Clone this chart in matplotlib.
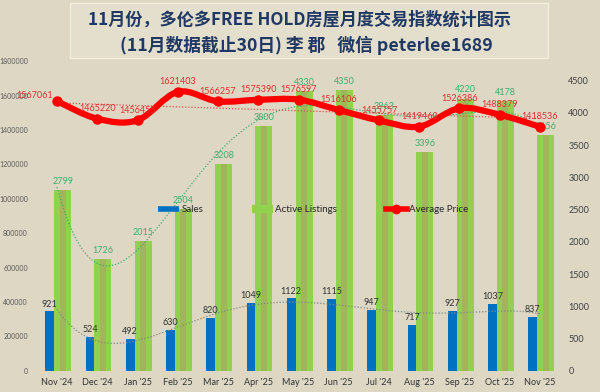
import numpy as np
import matplotlib
matplotlib.use("Agg")
import matplotlib.pyplot as plt
from matplotlib.path import Path
from matplotlib.patches import PathPatch, Rectangle
from matplotlib.lines import Line2D

# data
months = ["Nov '24", "Dec '24", "Jan '25", "Feb '25", "Mar '25", "Apr '25", "May '25",
          "Jun '25", "Jul '24", "Aug '25", "Sep '25", "Oct '25", "Nov '25"]
sales = [921, 524, 492, 630, 820, 1049, 1122, 1115, 947, 717, 927, 1037, 837]
active = [2799, 1726, 2015, 2504, 3208, 3800, 4330, 4350, 3963, 3396, 4220, 4178, 3656]
price = [1567061, 1465220, 1456455, 1621403, 1566257, 1575390, 1576597,
         1516106, 1455757, 1419460, 1526386, 1488379, 1418536]
left_ticks = list(range(0, 1800001, 200000))
right_ticks = list(range(0, 4501, 500))

bg = '#ddd7c3'
blue = '#0070c0'
green = '#92d050'
green_mid = '#a2b45c'
red = '#ff0000'

plt.rcParams['font.family'] = ['Lato', 'DejaVu Sans']

fig = plt.figure(figsize=(6, 3.92), dpi=100, facecolor=bg)
ax2 = fig.add_axes([0.0615, 0.054, 0.872, 0.79])   # bars, right scale
ax = ax2.twinx()                                    # price, left scale
ax.yaxis.tick_left()
ax2.yaxis.tick_right()
ax.set_zorder(ax2.get_zorder() + 1)
ax.patch.set_visible(False)
ax2.set_facecolor('none')

x = np.arange(len(months))

# bars
ax2.bar(x - 0.18, sales, width=0.22, color=blue, zorder=3)
ax2.bar(x + 0.14, active, width=0.42, color=green, zorder=2)
ax2.bar(x + 0.14, active, width=0.15, color=green_mid, zorder=2)

for i in range(len(x)):
    ax2.annotate(str(sales[i]), (x[i] - 0.18, sales[i]), xytext=(0, 2),
                 textcoords='offset points', ha='center', va='bottom',
                 fontsize=6.5, color='#333333', zorder=5)
    ax2.annotate(str(active[i]), (x[i] + 0.14, active[i]), xytext=(0, 3),
                 textcoords='offset points', ha='center', va='bottom',
                 fontsize=6.5, color='#3fae6e', zorder=5)

# trend lines (polynomial / linear fits, like the spreadsheet trendlines)
xs = np.linspace(0, len(x) - 1, 300)
ax2.plot(xs, np.polyval(np.polyfit(x, sales, 5), xs), color='#7f8a86',
         lw=0.9, ls=(0, (1, 1.5)), zorder=4)
ax2.plot(xs, np.polyval(np.polyfit(x, active, 5), xs), color='#3fae6e',
         lw=0.9, ls=(0, (1, 1.5)), zorder=4)
ax.plot(xs, np.polyval(np.polyfit(x, price, 1), xs), color='#e05050',
        lw=0.9, ls=(0, (1, 1.5)), zorder=2)

# smoothed price line (catmull-rom as bezier path)
pts = np.column_stack([x, price]).astype(float)
n = len(pts)
verts = [pts[0]]
codes = [Path.MOVETO]
for i in range(n - 1):
    p0 = pts[i - 1] if i > 0 else pts[i]
    p3 = pts[i + 2] if i + 2 < n else pts[i + 1]
    c1 = pts[i] + (pts[i + 1] - p0) / 6
    c2 = pts[i + 1] - (p3 - pts[i]) / 6
    verts += [c1, c2, pts[i + 1]]
    codes += [Path.CURVE4] * 3
ax.add_patch(PathPatch(Path(verts, codes), fill=False, edgecolor=red, lw=4.5,
                       capstyle='round', joinstyle='round', zorder=3))
ax.plot(x, price, 'o', color=red, ms=6.5, zorder=4)

for i in range(n):
    if i == 0:
        ax.annotate(str(price[i]), (x[i], price[i]), xytext=(-3, 4),
                    textcoords='offset points', ha='right', va='center',
                    fontsize=6.5, color='#e03030', zorder=6)
    else:
        ax.annotate(str(price[i]), (x[i], price[i]), xytext=(0, 4),
                    textcoords='offset points', ha='center', va='bottom',
                    fontsize=6.5, color='#e03030', zorder=6)

# axes
ax.set_xlim(-0.5, len(x) - 0.5)
ax.set_ylim(0, 1800000)
ax2.set_ylim(0, 4800)
ax.set_yticks(left_ticks)
ax.set_yticklabels([str(t) for t in left_ticks])
ax2.set_yticks(right_ticks)
ax2.set_yticklabels([str(t) for t in right_ticks])
ax2.set_xticks(x)
ax2.set_xticklabels(months)
ax.tick_params(axis='y', length=0, pad=6.5, labelsize=5, labelcolor='#595959')
ax2.tick_params(axis='y', length=0, pad=6, labelsize=6.5, labelcolor='#404040')
ax2.tick_params(axis='x', length=0, pad=5, labelsize=6.5, labelcolor='#333333')
ax.tick_params(axis='x', length=0)
for a in (ax, ax2):
    for s in a.spines.values():
        s.set_visible(False)

# legend
handles = [Line2D([], [], color=blue, lw=4, solid_capstyle='butt'),
           Line2D([], [], color=green, lw=6, solid_capstyle='butt'),
           Line2D([], [], color=red, lw=4, marker='o', ms=6)]
fig.legend(handles, ['Sales', 'Active Listings', 'Average Price'], loc='center',
           bbox_to_anchor=(0.522, 1 - 210 / 392), ncol=3, frameon=False,
           columnspacing=5, handlelength=2.2, handletextpad=0.2,
           fontsize=7, labelcolor='#262626')

# title box
fig.patches.append(Rectangle((70 / 600, 1 - 58 / 392), 478 / 600, 55 / 392,
                             transform=fig.transFigure, facecolor='#e4dfcc',
                             edgecolor='#f2eddc', lw=1))
title_font = ['Noto Sans CJK SC', 'DejaVu Sans']
fig.text(0.5, 1 - 20 / 392, '11月份，多伦多FREE HOLD房屋月度交易指数统计图示',
         ha='center', va='center', fontsize=12.3, fontweight='bold',
         color='#1f3864', family=title_font)
fig.text(0.51, 1 - 45 / 392, '(11月数据截止30日) 李 郡   微信 peterlee1689',
         ha='center', va='center', fontsize=12.8, fontweight='bold',
         color='#1f3864', family=title_font)

fig.savefig('out.png', dpi=100, facecolor=bg)
